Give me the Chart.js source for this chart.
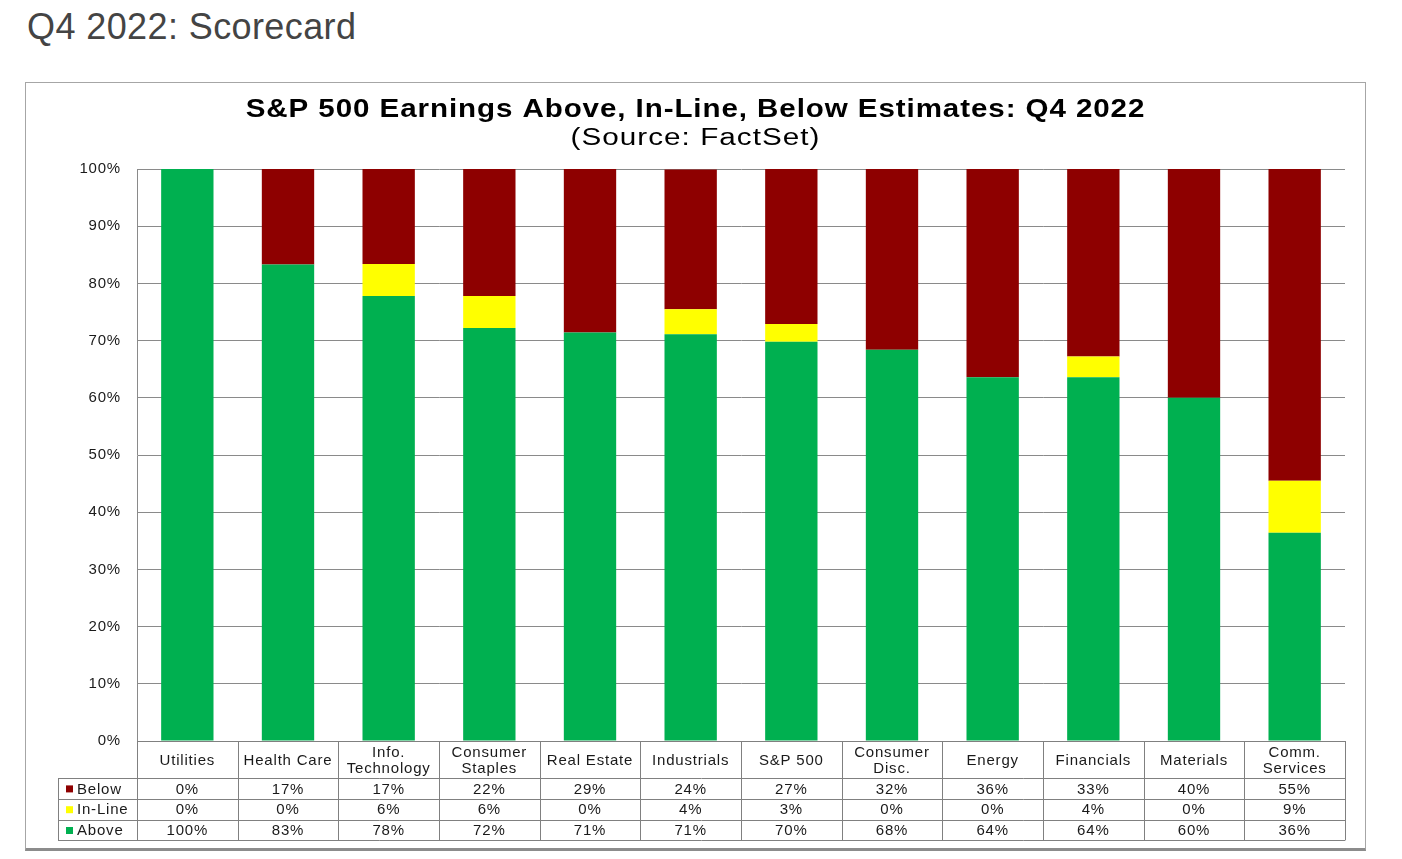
<!DOCTYPE html>
<html>
<head>
<meta charset="utf-8">
<title>Q4 2022: Scorecard</title>
<script src="https://cdn.jsdelivr.net/npm/chart.js@4.4.0/dist/chart.umd.min.js"></script>
<style>
  body { margin: 0; background: #fff; font-family: "Liberation Sans", Arial, sans-serif; }
  h1 { position: absolute; left: 27px; top: 6px; margin: 0; font-weight: normal; font-size: 36px; letter-spacing: 0.4px; color: #444; }
  #frame { position: absolute; left: 25px; top: 82px; width: 1339px; height: 765px; border: 1px solid #a6a6a6; border-bottom: 3px solid #8c8c8c; }
  canvas { display: block; }
</style>
</head>
<body>
<h1>Q4 2022: Scorecard</h1>
<div id="frame"><canvas id="chart" width="1339" height="765"></canvas></div>
<script>
// sectors, left to right
const sectors = ['Utilities', 'Health Care', 'Info.\nTechnology', 'Consumer\nStaples', 'Real Estate', 'Industrials',
  'S&P 500', 'Consumer\nDisc.', 'Energy', 'Financials', 'Materials', 'Comm.\nServices'];

// share of companies (%)
const above  = [100, 83.3, 77.8, 72.2, 71.4, 71.1, 69.8, 68.4, 63.6, 63.6, 60.0, 36.4];
const inLine = [0,   0,    5.6,  5.6,  0,    4.4,  3.1,  0,    0,    3.6,  0,    9.1];
const below  = [0,   16.7, 16.7, 22.2, 28.6, 24.4, 27.1, 31.6, 36.4, 32.8, 40.0, 54.5];

// the table under the chart shows the rounded figures
const tableBelow  = ['0%', '17%', '17%', '22%', '29%', '24%', '27%', '32%', '36%', '33%', '40%', '55%'];
const tableInLine = ['0%', '0%', '6%', '6%', '0%', '4%', '3%', '0%', '0%', '4%', '0%', '9%'];
const tableAbove  = ['100%', '83%', '78%', '72%', '71%', '71%', '70%', '68%', '64%', '64%', '60%', '36%'];

const chartTitle = 'S&P 500 Earnings Above, In-Line, Below Estimates: Q4 2022';
const chartSubtitle = '(Source: FactSet)';

const GREEN = '#00b050', YELLOW = '#ffff00', RED = '#8e0000';
const FONT = '"Liberation Sans", Arial, sans-serif';

// the titles in the original are drawn horizontally stretched
const titles = {
  id: 'titles',
  afterDraw(chart) {
    const ctx = chart.ctx;
    const cx = chart.width / 2;
    ctx.save();
    ctx.fillStyle = '#000';
    ctx.textAlign = 'center';
    ctx.textBaseline = 'middle';
    ctx.letterSpacing = '0.8px';
    ctx.save();
    ctx.translate(cx, 27);
    ctx.scale(1.137, 1);
    ctx.font = 'bold 26px ' + FONT;
    ctx.fillText(chartTitle, 0, 0);
    ctx.restore();
    ctx.translate(cx, 56);
    ctx.scale(1.29, 1);
    ctx.font = '23px ' + FONT;
    ctx.fillText(chartSubtitle, 0, 0);
    ctx.restore();
  }
};

const dataTable = {
  id: 'dataTable',
  afterDraw(chart) {
    const { ctx, chartArea } = chart;
    const x = chart.scales.x;
    const half = (x.getPixelForValue(1) - x.getPixelForValue(0)) / 2;
    const top = chartArea.bottom;
    const headH = 37, rowH = 20.8;
    const labelLeft = 32;
    const bottom = top + headH + rowH * 3;

    ctx.save();
    ctx.strokeStyle = '#808080';
    ctx.lineWidth = 1;
    ctx.beginPath();
    // header top + row lines
    ctx.moveTo(chartArea.left, top + 0.5); ctx.lineTo(chartArea.right, top + 0.5);
    for (let r = 0; r <= 3; r++) {
      const y = Math.round(top + headH + rowH * r) + 0.5;
      ctx.moveTo(labelLeft, y); ctx.lineTo(chartArea.right, y);
    }
    // column lines
    ctx.moveTo(labelLeft + 0.5, top + headH); ctx.lineTo(labelLeft + 0.5, bottom);
    for (let i = 0; i <= sectors.length; i++) {
      const cx = Math.round(i < sectors.length ? x.getPixelForValue(i) - half : x.getPixelForValue(i - 1) + half) + 0.5;
      ctx.moveTo(cx, top); ctx.lineTo(cx, bottom);
    }
    ctx.stroke();

    ctx.fillStyle = '#1a1a1a';
    ctx.textAlign = 'center';
    ctx.textBaseline = 'middle';
    ctx.letterSpacing = '0.8px';
    ctx.font = '15px ' + FONT;
    const mid = top + headH / 2 + 1;
    sectors.forEach((name, i) => {
      const cx = x.getPixelForValue(i);
      const lines = name.split('\n');
      if (lines.length === 1) ctx.fillText(lines[0], cx, mid);
      else { ctx.fillText(lines[0], cx, mid - 8); ctx.fillText(lines[1], cx, mid + 8); }
    });

    const rows = [['Below', RED, tableBelow], ['In-Line', YELLOW, tableInLine], ['Above', GREEN, tableAbove]];
    rows.forEach(([label, color, vals], r) => {
      const y = top + headH + rowH * r + rowH / 2 + 1;
      vals.forEach((v, i) => ctx.fillText(v, x.getPixelForValue(i), y));
      ctx.fillStyle = color;
      ctx.fillRect(labelLeft + 8, y - 4, 7, 7);
      ctx.fillStyle = '#1a1a1a';
      ctx.textAlign = 'left';
      ctx.fillText(label, labelLeft + 19, y);
      ctx.textAlign = 'center';
    });
    ctx.restore();
  }
};

const spacing = {
  id: 'spacing',
  beforeDraw(chart) { chart.ctx.letterSpacing = '0.8px'; }
};

new Chart(document.getElementById('chart'), {
  type: 'bar',
  data: {
    labels: sectors,
    datasets: [
      { label: 'Above', data: above, backgroundColor: GREEN },
      { label: 'In-Line', data: inLine, backgroundColor: YELLOW },
      { label: 'Below', data: below, backgroundColor: RED }
    ]
  },
  options: {
    responsive: false,
    animation: false,
    layout: { padding: { left: 0, right: 20, top: 86, bottom: 107 } },
    datasets: { bar: { barPercentage: 0.52, categoryPercentage: 1 } },
    plugins: {
      legend: { display: false },
      tooltip: { enabled: false },
      title: { display: false },
      subtitle: { display: false }
    },
    scales: {
      x: { stacked: true, display: false },
      y: {
        stacked: true,
        min: 0,
        max: 100,
        afterFit(s) { s.width = 111; },
        ticks: {
          stepSize: 10,
          padding: 16,
          color: '#1a1a1a',
          font: { family: FONT, size: 15 },
          callback: v => v + '%'
        },
        grid: { color: '#8a8a8a', drawTicks: false },
        border: { display: true, color: '#8a8a8a' }
      }
    }
  },
  plugins: [dataTable, spacing, titles]
});
</script>
</body>
</html>
